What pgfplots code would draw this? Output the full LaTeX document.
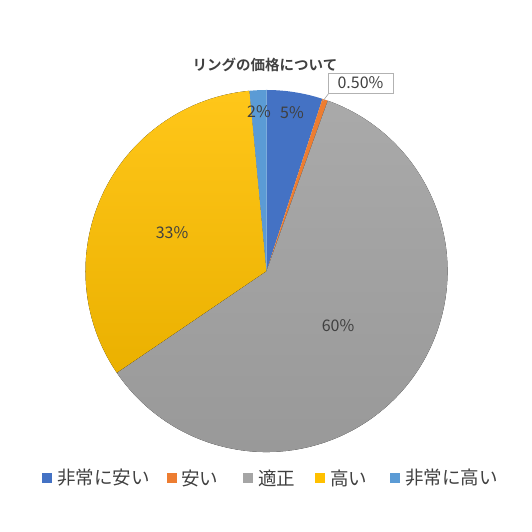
\documentclass[border=0pt]{standalone}
\usepackage{pgfplots}
\pgfplotsset{compat=1.18}
\usepackage{fontspec}
\setmainfont{Liberation Sans}
\newfontfamily\cjk{Noto Sans CJK JP}
\newfontfamily\cjkb{Noto Sans CJK JP Bold}
\definecolor{cBlue}{HTML}{4472C4}
\definecolor{cOrange}{HTML}{ED7D31}
\definecolor{cGray}{HTML}{A5A5A5}
\definecolor{cGold}{HTML}{FFC000}
\definecolor{cLBlue}{HTML}{5B9BD5}
\definecolor{txt}{HTML}{404040}
% values (percent): 5, 0.5, 60, 33, 1.5
\begin{document}
\begin{tikzpicture}
\begin{axis}[
  scale only axis, width=532pt, height=532pt,
  xmin=0, xmax=532, ymin=0, ymax=532,
  hide axis, clip=false]
\path (axis cs:0,0) rectangle (axis cs:532,532);
\def\cx{266.5}\def\cy{261}\def\R{181pt}
% sector angles: start = 90 - 3.6*cumulative
\fill[cBlue]   (axis cs:\cx,\cy) -- +(90:\R)     arc[start angle=90,     end angle=72,     radius=\R] -- cycle;
\fill[cOrange] (axis cs:\cx,\cy) -- +(72:\R)     arc[start angle=72,     end angle=70.2,   radius=\R] -- cycle;
\fill[top color=cGray!95!white, bottom color=cGray!92!black] (axis cs:\cx,\cy) -- +(70.2:\R) arc[start angle=70.2, end angle=-145.8, radius=\R] -- cycle;
\fill[top color=cGold!90!white, bottom color=cGold!92!black] (axis cs:\cx,\cy) -- +(-145.8:\R) arc[start angle=-145.8, end angle=-264.6, radius=\R] -- cycle;
\fill[cLBlue]  (axis cs:\cx,\cy) -- +(-264.6:\R) arc[start angle=-264.6, end angle=-270,   radius=\R] -- cycle;
% title
\node[font=\cjkb\fontsize{14.5}{16}\selectfont, text=txt] at (axis cs:265,467) {リングの価格について};
% data labels
\begin{scope}[every node/.style={font=\cjk\fontsize{16}{18}\selectfont, text=txt}]
\node at (axis cs:292,419) {5\%};
\node at (axis cs:259,420) {2\%};
\node at (axis cs:172,299) {33\%};
\node at (axis cs:338,206) {60\%};
\end{scope}
\draw[gray!70, line width=0.6pt] (axis cs:323,431) -- (axis cs:329,439);
\draw[gray!60, fill=white, line width=0.6pt] (axis cs:328,439) rectangle (axis cs:393,459);
\node[font=\cjk\fontsize{16}{18}\selectfont, text=txt] at (axis cs:360.5,449) {0.50\%};
% legend
\begin{scope}[font=\cjk\fontsize{18.5}{20}\selectfont, text=txt]
\fill[cBlue]   (axis cs:42,49) rectangle (axis cs:52,59);
\node[anchor=west, inner sep=0pt] at (axis cs:57,54) {非常に安い};
\fill[cOrange] (axis cs:167,49) rectangle (axis cs:177,59);
\node[anchor=west, inner sep=0pt] at (axis cs:181,54) {安い};
\fill[cGray]   (axis cs:243,49) rectangle (axis cs:253,59);
\node[anchor=west, inner sep=0pt] at (axis cs:258,54) {適正};
\fill[cGold]   (axis cs:315,49) rectangle (axis cs:325,59);
\node[anchor=west, inner sep=0pt] at (axis cs:330,54) {高い};
\fill[cLBlue]  (axis cs:390,49) rectangle (axis cs:400,59);
\node[anchor=west, inner sep=0pt] at (axis cs:405,54) {非常に高い};
\end{scope}
\end{axis}
\end{tikzpicture}
\end{document}
